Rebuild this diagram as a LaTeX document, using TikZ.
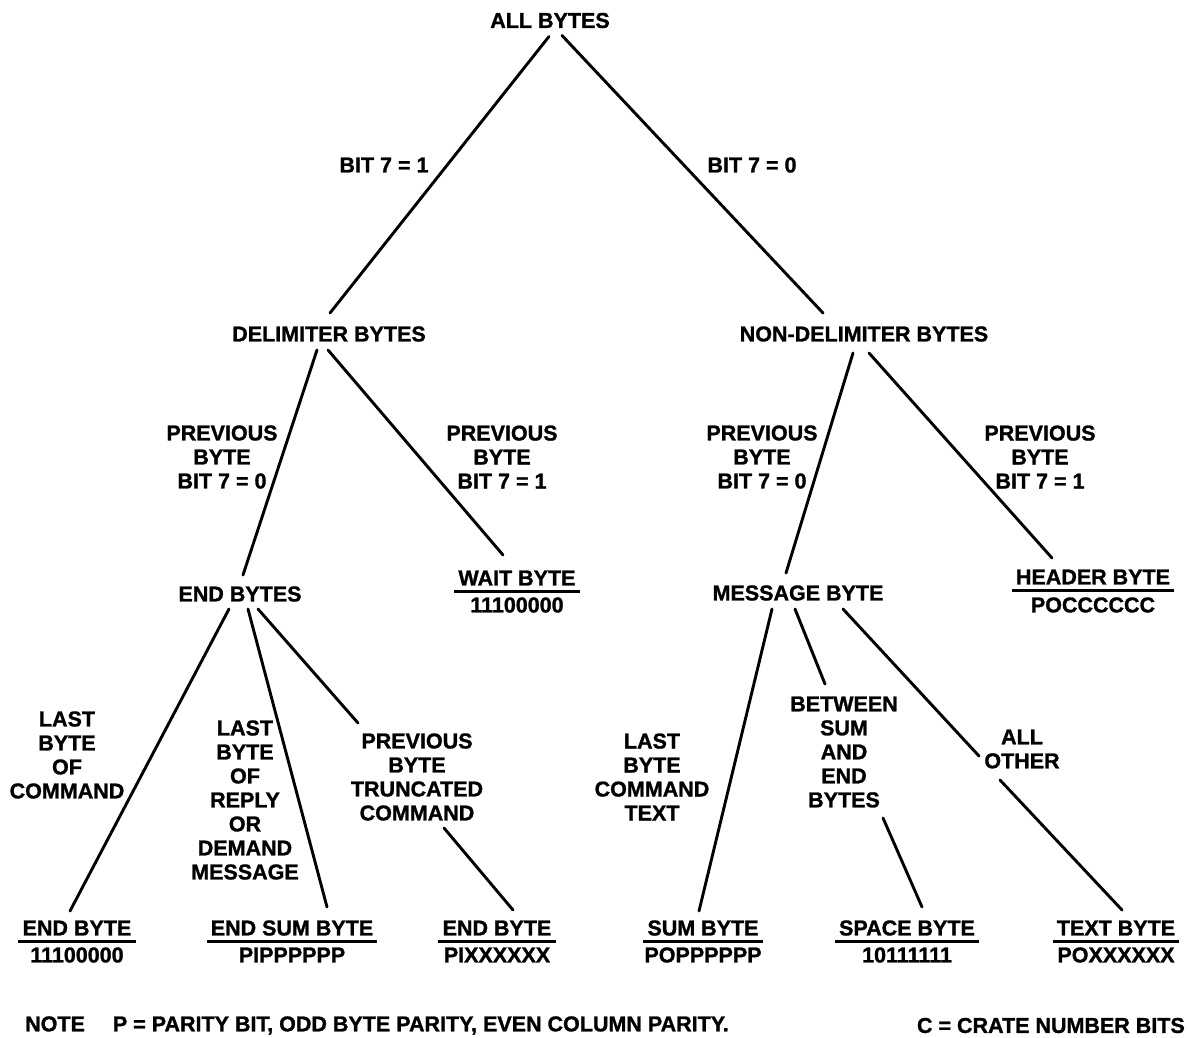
\documentclass[tikz,border=0pt]{standalone}
\usepackage{fontspec}
\setmainfont{Liberation Sans}[BoldFeatures={FakeBold=1.2}]
\begin{document}
\begin{tikzpicture}[x=1pt,y=-1pt,
  txt/.style={font=\fontsize{21.5}{24}\selectfont\bfseries, align=center, inner sep=0pt, text=black},
  conn/.style={line width=2.9pt, line cap=round},
  bar/.style={line width=3pt}]
\useasboundingbox (0,0) rectangle (1188,1038);
\fill[white] (0,0) rectangle (1188,1038);

% fraction bar under a leaf title
\newcommand\leafbar[1]{\draw[bar] ([shift={(-4,5.5)}]#1.south west) -- ([shift={(4,5.5)}]#1.south east);}

% ---- tree nodes
\node[txt] (allb) at (550,20.5) {ALL BYTES};
\node[txt] (bit1) at (384,165) {BIT 7 = 1};
\node[txt] (bit0) at (752,165) {BIT 7 = 0};
\node[txt] (delim) at (329,334) {DELIMITER BYTES};
\node[txt] (nondelim) at (864,334) {NON-DELIMITER BYTES};

\node[txt] (pbzl) at (222,457) {PREVIOUS\\BYTE\\BIT 7 = 0};
\node[txt] (pbol) at (502,457) {PREVIOUS\\BYTE\\BIT 7 = 1};
\node[txt] (pbzr) at (762,457) {PREVIOUS\\BYTE\\BIT 7 = 0};
\node[txt] (pbor) at (1040,457) {PREVIOUS\\BYTE\\BIT 7 = 1};

\node[txt] (endb) at (240,594) {END BYTES};
\node[txt] (wait) at (517,578) {WAIT BYTE};
\node[txt] (waitn) at (517,605) {11100000};
\node[txt] (msg) at (798,593) {MESSAGE BYTE};
\node[txt] (head) at (1093,577) {HEADER BYTE};
\node[txt] (headn) at (1093,605) {POCCCCCC};

% ---- branch conditions
\node[txt] (lboc) at (67,755) {LAST\\BYTE\\OF\\COMMAND};
\node[txt] (lbro) at (245,800) {LAST\\BYTE\\OF\\REPLY\\OR\\DEMAND\\MESSAGE};
\node[txt] (ptc) at (417,777) {PREVIOUS\\BYTE\\TRUNCATED\\COMMAND};
\node[txt] (lbct) at (652,777) {LAST\\BYTE\\COMMAND\\TEXT};
\node[txt] (betw) at (844,752) {BETWEEN\\SUM\\AND\\END\\BYTES};
\node[txt] (allo) at (1022,749) {ALL\\OTHER};

% ---- leaves
\node[txt] (ebl) at (77,928) {END BYTE};
\node[txt] (ebln) at (77,955) {11100000};
\node[txt] (esb) at (292,928) {END SUM BYTE};
\node[txt] (esbn) at (292,955) {PIPPPPPP};
\node[txt] (ebr) at (497,928) {END BYTE};
\node[txt] (ebrn) at (497,955) {PIXXXXXX};
\node[txt] (sb) at (703,928) {SUM BYTE};
\node[txt] (sbn) at (703,955) {POPPPPPP};
\node[txt] (spb) at (907,928) {SPACE BYTE};
\node[txt] (spbn) at (907,955) {10111111};
\node[txt] (tb) at (1116,928) {TEXT BYTE};
\node[txt] (tbn) at (1116,955) {POXXXXXX};

\leafbar{wait}
\leafbar{head}
\leafbar{ebl}
\leafbar{esb}
\leafbar{ebr}
\leafbar{sb}
\leafbar{spb}
\leafbar{tb}

% ---- connectors
\draw[conn] ([shift={(-1,16)}]allb.center) -- ([shift={(1,-21)}]delim.center);
\draw[conn] ([shift={(12,15)}]allb.center) -- ([shift={(-41,-21)}]nondelim.center);
\draw[conn] ([shift={(-12,16)}]delim.center) -- ([shift={(3,-19)}]endb.center);
\draw[conn] ([shift={(-1,16)}]delim.center) -- ([shift={(-14,-23)}]wait.center);
\draw[conn] ([shift={(-11,19)}]nondelim.center) -- ([shift={(-12,-20)}]msg.center);
\draw[conn] ([shift={(5,19)}]nondelim.center) -- ([shift={(-41,-19)}]head.center);
\draw[conn] ([shift={(-11,15)}]endb.center) -- ([shift={(-7,-17)}]ebl.center);
\draw[conn] ([shift={(8,15)}]endb.center) -- ([shift={(35,-21)}]esb.center);
\draw[conn] ([shift={(18,15)}]endb.center) -- ([shift={(-59,-54)}]ptc.center);
\draw[conn] ([shift={(27,51)}]ptc.center) -- ([shift={(16,-18)}]ebr.center);
\draw[conn] ([shift={(-26,16)}]msg.center) -- ([shift={(-4,-17)}]sb.center);
\draw[conn] ([shift={(-3,16)}]msg.center) -- ([shift={(-19,-68)}]betw.center);
\draw[conn] ([shift={(39,66)}]betw.center) -- ([shift={(15,-21)}]spb.center);
\draw[conn] ([shift={(45,16)}]msg.center) -- ([shift={(-43,7)}]allo.center);
\draw[conn] ([shift={(-22,31)}]allo.center) -- ([shift={(6,-18)}]tb.center);

% ---- note line
\node[txt, anchor=west] (note) at (25,1025.5)
  {NOTE\hspace{28pt}P = PARITY BIT, ODD BYTE PARITY, EVEN COLUMN PARITY.};
\node[txt, anchor=east] (cnote) at (1185,1025.5) {C = CRATE NUMBER BITS};
\end{tikzpicture}
\end{document}
